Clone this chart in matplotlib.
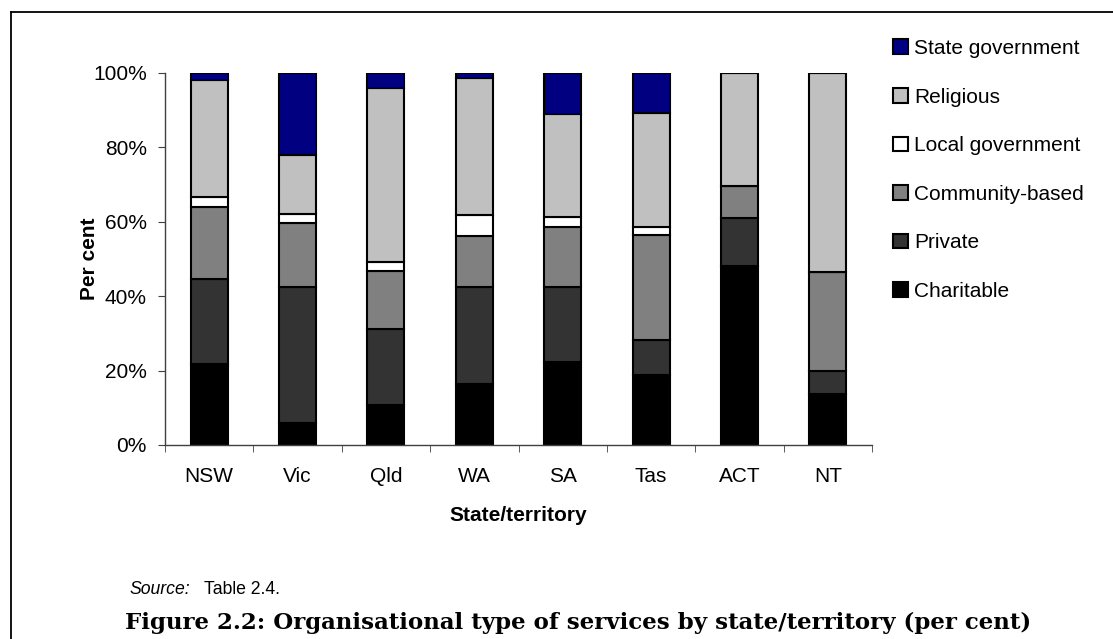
import numpy as np
import matplotlib
matplotlib.use("Agg")
from matplotlib import pyplot as plt
from matplotlib.lines import Line2D

# per cent of services by organisational type
states = ["NSW", "Vic", "Qld", "WA", "SA", "Tas", "ACT", "NT"]
charitable = [21.8, 5.8, 10.8, 16.4, 22.2, 18.8, 48.2, 13.7]
private = [22.8, 36.8, 20.3, 26.0, 20.2, 9.5, 12.8, 6.3]
community = [19.3, 17.0, 15.8, 13.7, 16.3, 28.2, 8.7, 26.6]
local_gov = [2.7, 2.6, 2.2, 5.8, 2.7, 2.2, 0.0, 0.0]
religious = [31.4, 15.8, 46.9, 36.8, 27.7, 30.5, 30.3, 53.4]
state_gov = [2.0, 22.0, 4.0, 1.3, 10.9, 10.8, 0.0, 0.0]

series = [
    ("Charitable", charitable, "#000000"),
    ("Private", private, "#333333"),
    ("Community-based", community, "#808080"),
    ("Local government", local_gov, "#ffffff"),
    ("Religious", religious, "#c0c0c0"),
    ("State government", state_gov, "#000080"),
]

plt.rcParams["font.family"] = ["Liberation Sans", "DejaVu Sans"]

fig = plt.figure(figsize=(11.13, 6.39), dpi=100)
ax = fig.add_axes([165 / 1113, 1 - 445 / 639, 707 / 1113, 372 / 639])

x = np.arange(len(states))
bottom = np.zeros(len(states))
handles = []
for name, vals, col in series:
    vals = np.array(vals)
    b = ax.bar(x, vals, 0.42, bottom=bottom, color=col, edgecolor="black",
               linewidth=1.5, label=name)
    handles.append(b)
    bottom += vals

ax.set_xlim(-0.5, len(states) - 0.5)
ax.set_ylim(0, 100)
ax.set_yticks([0, 20, 40, 60, 80, 100])
ax.set_yticklabels([f"{v}%" for v in [0, 20, 40, 60, 80, 100]], fontsize=15)
ax.set_xticks(x)
ax.set_xticklabels(states, fontsize=15)
ax.set_xticks(np.arange(-0.5, len(states)), minor=True)
ax.tick_params(axis="x", which="major", length=0, pad=16)
ax.tick_params(axis="x", which="minor", length=5, color="#404040", direction="out")
ax.tick_params(axis="y", length=5, color="#404040", direction="out", pad=8)

for s in ["top", "right"]:
    ax.spines[s].set_visible(False)
for s in ["left", "bottom"]:
    ax.spines[s].set_color("#404040")
    ax.spines[s].set_linewidth(1)

ax.set_ylabel("Per cent", fontsize=15, fontweight="bold")
ax.yaxis.set_label_coords(-0.107, 0.5)
ax.set_xlabel("State/territory", fontsize=15, fontweight="bold")
ax.xaxis.set_label_coords(0.5, -0.19)
ax.xaxis.label.set_va("center")
ax.yaxis.label.set_va("center")

fig.legend(handles[::-1], [s[0] for s in series][::-1], loc="upper left",
           bbox_to_anchor=(893 / 1113, 1 - 39 / 639), frameon=False,
           fontsize=15, handlelength=0.7, handleheight=0.7,
           handletextpad=0.3, labelspacing=1.42, borderpad=0, borderaxespad=0)

# border around the figure
fig.add_artist(Line2D([11 / 1113, 11 / 1113], [0, 1 - 12 / 639], color="black", lw=1.3))
fig.add_artist(Line2D([11 / 1113, 1], [1 - 12 / 639, 1 - 12 / 639], color="black", lw=1.3))

fig.text(130 / 1113, 1 - 590 / 639, "Source:", fontsize=12.7, style="italic", va="center")
fig.text(204 / 1113, 1 - 590 / 639, "Table 2.4.", fontsize=12.7, va="center")
fig.text(125 / 1113, 1 - 623 / 639,
         "Figure 2.2: Organisational type of services by state/territory (per cent)",
         fontsize=16.5, fontweight="bold", family="DejaVu Serif", va="center")

fig.savefig("out.png", dpi=100)
